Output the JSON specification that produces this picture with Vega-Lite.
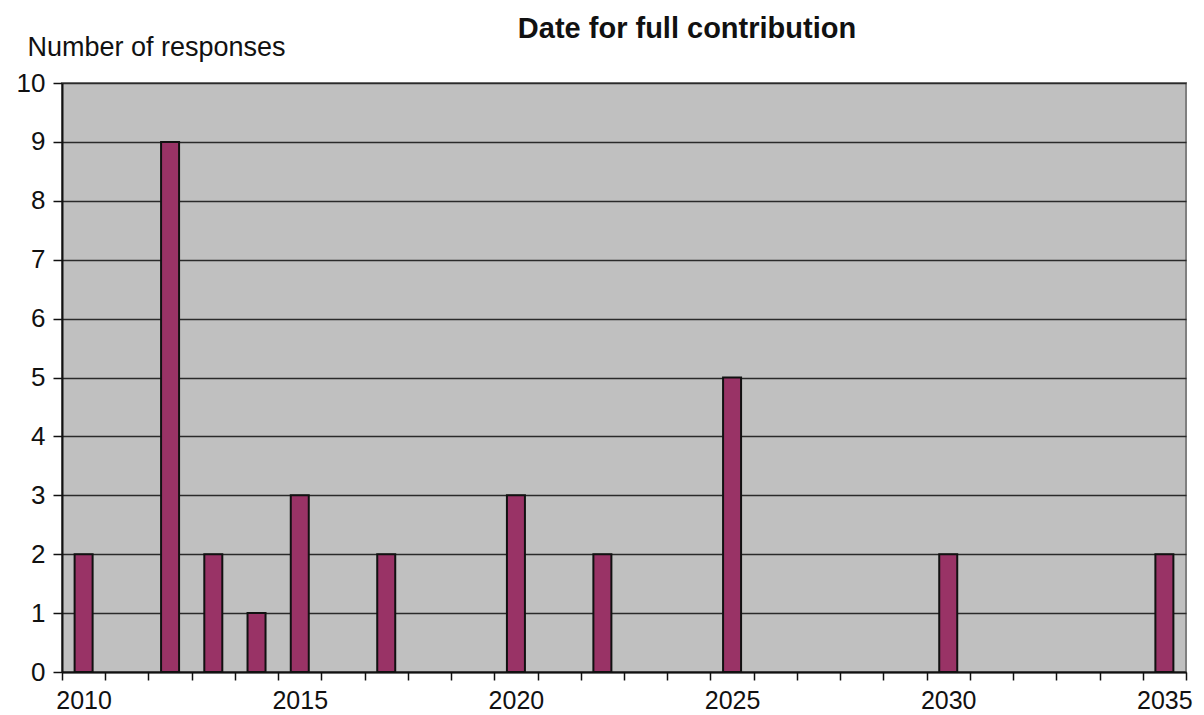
{
  "$schema": "https://vega.github.io/schema/vega-lite/v6.json",
  "autosize": {"type": "none"},
  "width": 1124,
  "height": 589,
  "padding": {"left": 62, "top": 83, "right": 18, "bottom": 43},
  "background": "white",
  "title": {
    "text": "Date for full contribution",
    "font": "Liberation Sans",
    "fontSize": 29,
    "fontWeight": "bold",
    "color": "#111111",
    "anchor": "middle",
    "frame": "group",
    "dx": 63,
    "offset": -11
  },
  "config": {
    "view": {"fill": "#c0c0c0", "stroke": "#808080", "strokeWidth": 2},
    "axis": {
      "labelFont": "Liberation Sans",
      "titleFont": "Liberation Sans",
      "labelColor": "#111111",
      "titleColor": "#111111",
      "domainColor": "#111111",
      "tickColor": "#111111"
    }
  },
  "data": {
    "values": [
      {"year": 2010, "responses": 2},
      {"year": 2012, "responses": 9},
      {"year": 2013, "responses": 2},
      {"year": 2014, "responses": 1},
      {"year": 2015, "responses": 3},
      {"year": 2017, "responses": 2},
      {"year": 2020, "responses": 3},
      {"year": 2022, "responses": 2},
      {"year": 2025, "responses": 5},
      {"year": 2030, "responses": 2},
      {"year": 2035, "responses": 2}
    ]
  },
  "mark": {"type": "bar", "width": 18, "color": "#993366", "stroke": "#111111", "strokeWidth": 2},
  "encoding": {
    "x": {
      "field": "year",
      "type": "quantitative",
      "scale": {"domain": [2009.5, 2035.5], "nice": false, "zero": false, "padding": 0},
      "axis": {
        "title": null,
        "grid": false,
        "values": [2009.5, 2010.5, 2011.5, 2012.5, 2013.5, 2014.5, 2015.5, 2016.5, 2017.5, 2018.5, 2019.5, 2020.5, 2021.5, 2022.5, 2023.5, 2024.5, 2025.5, 2026.5, 2027.5, 2028.5, 2029.5, 2030.5, 2031.5, 2032.5, 2033.5, 2034.5, 2035.5],
        "labelExpr": "(datum.value + 0.5) % 5 == 0 ? format(datum.value + 0.5, 'd') : ''",
        "labelOffset": 21.6,
        "labelOverlap": false,
        "labelBound": false,
        "labelFlush": false,
        "labelFontSize": 25,
        "labelPadding": 8,
        "tickSize": 8,
        "tickWidth": 1.5,
        "domainWidth": 2
      }
    },
    "y": {
      "field": "responses",
      "type": "quantitative",
      "scale": {"domain": [0, 10], "nice": false, "padding": 0},
      "axis": {
        "title": "Number of responses",
        "titleAngle": 0,
        "titleAlign": "left",
        "titleBaseline": "alphabetic",
        "titleX": -35,
        "titleY": -28,
        "titleFontSize": 27,
        "titleFontWeight": "normal",
        "values": [0, 1, 2, 3, 4, 5, 6, 7, 8, 9, 10],
        "format": "d",
        "grid": true,
        "gridColor": "#2a2a2a",
        "gridWidth": 1.5,
        "gridOpacity": 1,
        "labelFontSize": 26,
        "labelPadding": 8,
        "tickSize": 9,
        "tickWidth": 1.5,
        "domainWidth": 2
      }
    }
  }
}
